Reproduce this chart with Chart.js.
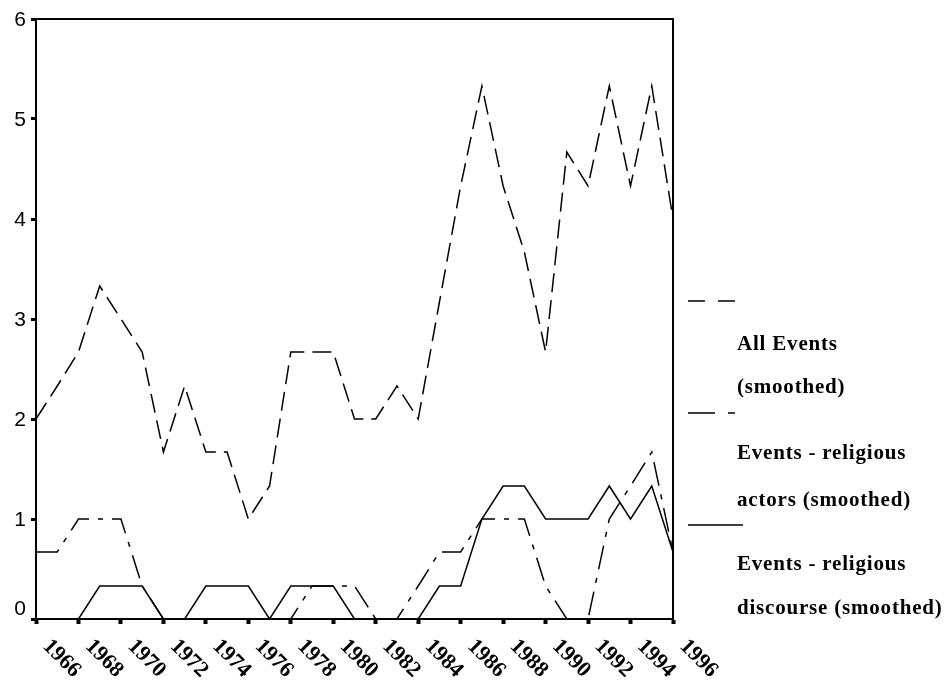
<!DOCTYPE html>
<html>
<head>
<meta charset="utf-8">
<script src="https://cdn.jsdelivr.net/npm/chart.js@4"></script>
<style>
html,body{margin:0;padding:0;background:#fff;}
#wrap{position:relative;width:947px;height:681px;}
</style>
</head>
<body>
<div id="wrap"><canvas id="c" width="947" height="681"></canvas></div>
<script>
const years = [1966,1967,1968,1969,1970,1971,1972,1973,1974,1975,1976,1977,1978,1979,1980,1981,1982,1983,1984,1985,1986,1987,1988,1989,1990,1991,1992,1993,1994,1995,1996];
const allEvents = [2.0,2.33,2.67,3.33,3.0,2.67,1.67,2.33,1.67,1.67,1.0,1.33,2.67,2.67,2.67,2.0,2.0,2.33,2.0,3.17,4.33,5.33,4.33,3.67,2.67,4.67,4.33,5.33,4.33,5.33,4.0];
const religiousActors = [0.67,0.67,1.0,1.0,1.0,0.33,0,0,0,0,0,0,0,0.33,0.33,0.33,0,0,0.33,0.67,0.67,1.0,1.0,1.0,0.33,0,0,1.0,1.33,1.67,0.67];
const religiousDiscourse = [0,0,0,0.33,0.33,0.33,0,0,0.33,0.33,0.33,0,0.33,0.33,0.33,0,0,0,0,0.33,0.33,1.0,1.33,1.33,1.0,1.0,1.0,1.33,1.0,1.33,0.67];
const yTicks = [0,1,2,3,4,5,6];
const legendLabels = [
  ["All Events","(smoothed)"],
  ["Events - religious","actors (smoothed)"],
  ["Events - religious","discourse (smoothed)"]
];
const seriesDash = [[19,8],[24,9,5,9],[]];

function pts(vals){ return years.map((y,i)=>({x:y,y:vals[i]})); }

const customDraw = {
  id:'customDraw',
  afterDraw(chart){
    const ctx = chart.ctx, a = chart.chartArea;
    const xs = chart.scales.x, ys = chart.scales.y;
    ctx.save();
    // frame (top/right)
    ctx.strokeStyle='#000'; ctx.lineWidth=2;
    ctx.beginPath();
    ctx.moveTo(a.left,a.top); ctx.lineTo(a.right,a.top); ctx.lineTo(a.right,a.bottom);
    ctx.stroke();
    // y labels
    ctx.fillStyle='#000';
    ctx.font='21px "Liberation Sans", Arial, sans-serif';
    ctx.textAlign='right'; ctx.textBaseline='middle';
    yTicks.forEach(v=>{
      let py = ys.getPixelForValue(v);
      if(v===0) py -= 11;
      ctx.fillText(String(v), a.left-10, py+1);
    });
    // x labels rotated clockwise
    ctx.font='bold 22px "Liberation Serif", "Times New Roman", serif';
    ctx.textAlign='left'; ctx.textBaseline='alphabetic';
    xs.ticks.forEach(t=>{
      const px = xs.getPixelForValue(t.value);
      ctx.save();
      ctx.translate(px+6, a.bottom+28);
      ctx.rotate(Math.PI/4);
      ctx.fillText(String(t.value),0,0);
      ctx.restore();
    });
    // legend
    const sampleY=[301,413,525];
    const textBase=[[350,393],[459,506],[570,614]];
    ctx.lineWidth=1.5;
    ctx.beginPath();
    ctx.moveTo(688,sampleY[0]); ctx.lineTo(705,sampleY[0]);
    ctx.moveTo(718,sampleY[0]); ctx.lineTo(735,sampleY[0]);
    ctx.stroke();
    ctx.beginPath();
    ctx.moveTo(688,sampleY[1]); ctx.lineTo(715,sampleY[1]);
    ctx.moveTo(728,sampleY[1]); ctx.lineTo(735,sampleY[1]);
    ctx.stroke();
    ctx.beginPath();
    ctx.moveTo(688,sampleY[2]); ctx.lineTo(743,sampleY[2]);
    ctx.stroke();
    ctx.font='bold 21px "Liberation Serif", "Times New Roman", serif';
    try{ ctx.letterSpacing='0.8px'; }catch(e){}
    ctx.textAlign='left'; ctx.textBaseline='alphabetic';
    legendLabels.forEach((lines,i)=>{
      lines.forEach((s,j)=>ctx.fillText(s,737,textBase[i][j]));
    });
    ctx.restore();
  }
};

new Chart(document.getElementById('c'),{
  type:'line',
  data:{
    datasets:[
      {label:'All Events (smoothed)',data:pts(allEvents),borderColor:'#000',borderWidth:1.5,borderDash:seriesDash[0],pointRadius:0,tension:0,fill:false},
      {label:'Events - religious actors (smoothed)',data:pts(religiousActors),borderColor:'#000',borderWidth:1.5,borderDash:seriesDash[1],pointRadius:0,tension:0,fill:false},
      {label:'Events - religious discourse (smoothed)',data:pts(religiousDiscourse),borderColor:'#000',borderWidth:1.5,borderDash:seriesDash[2],pointRadius:0,tension:0,fill:false}
    ]
  },
  options:{
    responsive:false,
    animation:false,
    devicePixelRatio:1,
    layout:{padding:{top:19,right:274,left:0,bottom:0}},
    plugins:{legend:{display:false},tooltip:{enabled:false}},
    scales:{
      x:{
        type:'linear',min:1966,max:1996,
        ticks:{stepSize:2,display:false},
        grid:{drawOnChartArea:false,drawTicks:true,tickLength:5,tickWidth:4,tickColor:'#000'},
        border:{display:true,color:'#000',width:2},
        afterFit(s){ s.height = 62; }
      },
      y:{
        min:0,max:6,
        ticks:{stepSize:1,display:false},
        grid:{drawOnChartArea:false,drawTicks:true,tickLength:5,tickWidth:3,tickColor:'#000'},
        border:{display:true,color:'#000',width:2},
        afterFit(s){ s.width = 36; }
      }
    }
  },
  plugins:[customDraw]
});
</script>
</body>
</html>
